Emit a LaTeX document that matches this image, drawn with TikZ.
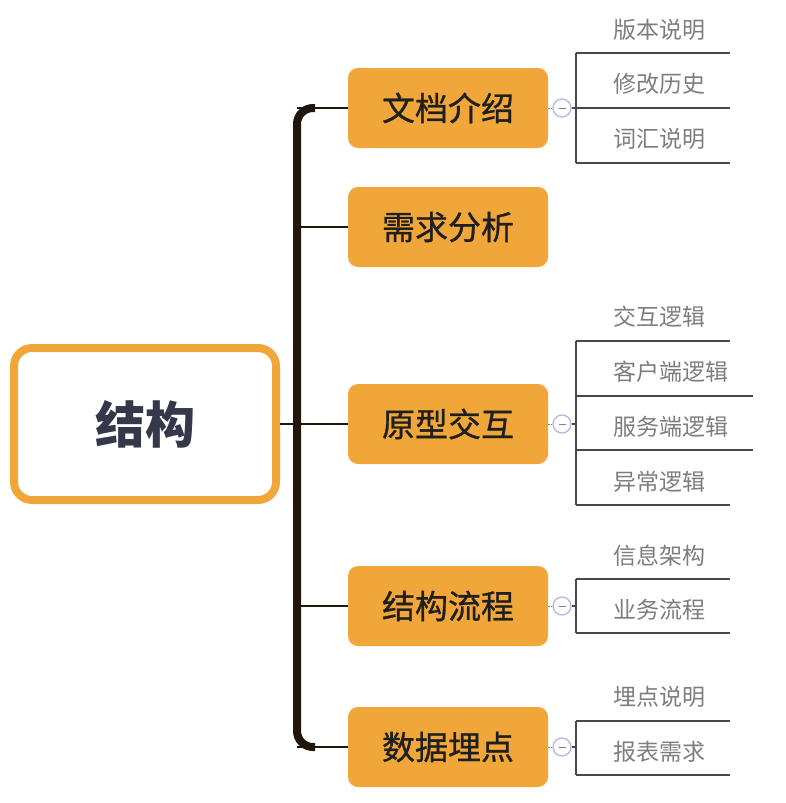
\documentclass[tikz,border=0pt]{standalone}
\usepackage{fontspec}
\newfontfamily\cjk{Noto Sans CJK SC}
\newfontfamily\cjkmid[FakeBold=0.9]{Noto Sans CJK SC}

\definecolor{boxorange}{RGB}{241,166,58}
\definecolor{spinebrown}{RGB}{32,22,12}
\definecolor{twiggray}{RGB}{72,72,72}
\definecolor{leafgray}{RGB}{125,125,125}
\definecolor{knobblue}{RGB}{172,182,232}
\definecolor{rootink}{RGB}{52,56,74}

\tikzset{
  rootbox/.style={draw=boxorange, line width=8pt, fill=white, rounded corners=18pt,
    minimum width=262pt, minimum height=152pt, text=rootink,
    font=\cjk\bfseries\fontsize{50}{50}\selectfont},
  topic/.style={fill=boxorange, rounded corners=10pt, minimum width=200pt,
    minimum height=80pt, text=black!88, font=\cjkmid\fontsize{33}{33}\selectfont},
  leaf/.style={anchor=west, inner sep=0pt, text=leafgray,
    font=\cjk\fontsize{23}{23}\selectfont},
  knob/.style={circle, draw=knobblue, line width=1.2pt, fill=white,
    minimum size=18pt, inner sep=0pt,
    path picture={\draw[knobblue!70!black, line width=1pt]
      ([xshift=-3.5pt]path picture bounding box.center) --
      ([xshift=3.5pt]path picture bounding box.center);}},
  spine/.style={draw=spinebrown, line width=8pt, rounded corners=16pt},
  branch/.style={draw=spinebrown, line width=2pt},
  twig/.style={draw=twiggray, line width=2pt},
  stub/.style={draw=twiggray!70, line width=1pt, dash pattern=on 2pt off 1pt},
}

\begin{document}
\begin{tikzpicture}[x=1pt,y=-1pt]
\useasboundingbox (0,0) rectangle (785,803);

% root and topics
\node[rootbox] (root) at (145,424) {结构};
\node[topic] (doc) at (448,108) {文档介绍};
\node[topic] (req) at (448,227) {需求分析};
\node[topic] (proto) at (448,424) {原型交互};
\node[topic] (flow) at (448,606) {结构流程};
\node[topic] (track) at (448,747) {数据埋点};

% spine
\coordinate (sp) at (297,0);
\draw[spine] (315,108) -- (297,108) -- (297,747) -- (315,747);
\draw[branch] (doc.west -| sp) -- (doc.west);
\draw[branch] (req.west -| sp) -- (req.west);
\draw[branch] (root.east) -- (proto.west);
\draw[branch] (flow.west -| sp) -- (flow.west);
\draw[branch] (track.west -| sp) -- (track.west);

% knobs
\coordinate (bx) at (576,0);
\node[knob] (kdoc) at (562,108) {};
\node[knob] (kproto) at (562,424) {};
\node[knob] (kflow) at (562,606) {};
\node[knob] (ktrack) at (562,747) {};
\draw[stub] (doc.east) -- (kdoc);
\draw[stub] (proto.east) -- (kproto);
\draw[stub] (flow.east) -- (kflow);
\draw[stub] (track.east) -- (ktrack);
\draw[twig] (kdoc) -- (kdoc -| bx);
\draw[twig] (kproto) -- (kproto -| bx);
\draw[twig] (kflow) -- (kflow -| bx);
\draw[twig] (ktrack) -- (ktrack -| bx);

% leaves of doc
\node[leaf] (l11) at (613,30) {版本说明};
\node[leaf] (l12) at (613,84) {修改历史};
\node[leaf] (l13) at (613,139) {词汇说明};
\coordinate (u11) at (576,53);
\coordinate (u12) at (576,108);
\coordinate (u13) at (576,163);
\draw[twig] (u11) -- (u13);
\draw[twig] (u11) -- (u11 -| l11.east) -- ++(25,0);
\draw[twig] (u12) -- (u12 -| l12.east) -- ++(25,0);
\draw[twig] (u13) -- (u13 -| l13.east) -- ++(25,0);

% leaves of proto
\node[leaf] (l31) at (613,317) {交互逻辑};
\node[leaf] (l32) at (613,372) {客户端逻辑};
\node[leaf] (l33) at (613,427) {服务端逻辑};
\node[leaf] (l34) at (613,482) {异常逻辑};
\coordinate (u31) at (576,341);
\coordinate (u32) at (576,396);
\coordinate (u33) at (576,450);
\coordinate (u34) at (576,505);
\draw[twig] (u31) -- (u34);
\draw[twig] (u31) -- (u31 -| l31.east) -- ++(25,0);
\draw[twig] (u32) -- (u32 -| l32.east) -- ++(25,0);
\draw[twig] (u33) -- (u33 -| l33.east) -- ++(25,0);
\draw[twig] (u34) -- (u34 -| l34.east) -- ++(25,0);

% leaves of flow
\node[leaf] (l41) at (613,556) {信息架构};
\node[leaf] (l42) at (613,610) {业务流程};
\coordinate (u41) at (576,579);
\coordinate (u42) at (576,633);
\draw[twig] (u41) -- (u42);
\draw[twig] (u41) -- (u41 -| l41.east) -- ++(25,0);
\draw[twig] (u42) -- (u42 -| l42.east) -- ++(25,0);

% leaves of track
\node[leaf] (l51) at (613,697) {埋点说明};
\node[leaf] (l52) at (613,752) {报表需求};
\coordinate (u51) at (576,721);
\coordinate (u52) at (576,775);
\draw[twig] (u51) -- (u52);
\draw[twig] (u51) -- (u51 -| l51.east) -- ++(25,0);
\draw[twig] (u52) -- (u52 -| l52.east) -- ++(25,0);
\end{tikzpicture}
\end{document}
